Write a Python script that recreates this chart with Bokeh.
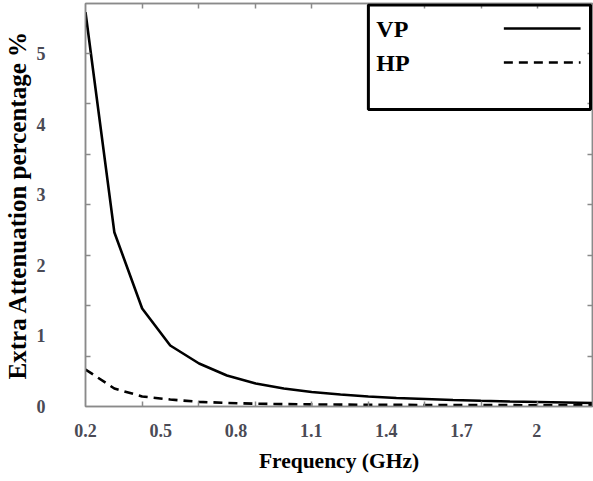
from bokeh.plotting import figure
from bokeh.models import (FixedTicker, LinearAxis, BoxAnnotation, Label,
                          CustomJSTickFormatter, Range1d)
from bokeh.embed import file_html
from bokeh.resources import INLINE

# ---- data ----
freq = [0.2, 0.315, 0.426, 0.538, 0.653, 0.764, 0.879, 0.991, 1.102, 1.217,
        1.328, 1.44, 1.555, 1.666, 1.777, 1.893, 2.004, 2.115, 2.23]
vp = [5.585, 2.469, 1.388, 0.864, 0.609, 0.439, 0.326, 0.255, 0.205, 0.170,
      0.142, 0.120, 0.106, 0.092, 0.081, 0.071, 0.064, 0.057, 0.050]
hp = [0.524, 0.255, 0.142, 0.099, 0.066, 0.050, 0.040, 0.034, 0.030, 0.027,
      0.025, 0.023, 0.022, 0.021, 0.020, 0.019, 0.018, 0.017, 0.016]
x_tick_labels = [0.2, 0.5, 0.8, 1.1, 1.4, 1.7, 2.0]
y_tick_labels = [0, 1, 2, 3, 4, 5]
x_tick_marks = [0.426, 0.652, 0.877, 1.102, 1.327, 1.553, 1.778, 2.003]
y_tick_marks = [0.714, 1.429, 2.143, 2.857, 3.571, 4.286, 5.0]
series_names = ["VP", "HP"]

# ---- layout geometry (page body has no margin) ----
W, H = 593, 481
B_LEFT, B_RIGHT, B_TOP, B_BOTTOM = 83, 1, 3, 75
FX0, FX1 = B_LEFT, W - B_RIGHT
FY0, FY1 = B_TOP, H - B_BOTTOM
X_PX_PER_UNIT = 251.7
Y_PX_PER_UNIT = 70.6
x_end = 0.2 + (FX1 - FX0) / X_PX_PER_UNIT
y_end = (FY1 - FY0) / Y_PX_PER_UNIT

def X(px):
    return 0.2 + (px - FX0) / X_PX_PER_UNIT

def Y(py):
    return (FY1 - py) / Y_PX_PER_UNIT

SERIF = "Liberation Serif"
TICK_COLOR = "#4a4a55"
AXIS_COLOR = "#8a8a8a"

p = figure(width=W, height=H, output_backend="svg", toolbar_location=None,
           x_range=Range1d(0.2, x_end), y_range=Range1d(0, y_end),
           min_border_left=B_LEFT, min_border_right=B_RIGHT,
           min_border_top=B_TOP, min_border_bottom=B_BOTTOM,
           x_axis_location=None, y_axis_location=None)
p.xgrid.visible = False
p.ygrid.visible = False
p.outline_line_color = AXIS_COLOR
p.outline_line_width = 1.5
p.background_fill_color = "white"
p.border_fill_color = "white"

fmt = CustomJSTickFormatter(code="return (Math.round(tick*10)/10).toString();")

def style_axis(ax, ticker, labels=True):
    ax.ticker = ticker
    ax.axis_line_color = AXIS_COLOR
    ax.axis_line_width = 1.5
    ax.major_tick_in = 0
    ax.major_tick_out = 0
    ax.minor_tick_in = 5
    ax.minor_tick_out = 0
    ax.minor_tick_line_color = AXIS_COLOR
    ax.minor_tick_line_width = 1.5
    if labels:
        ax.major_label_text_font = SERIF
        ax.major_label_text_font_style = "bold"
        ax.major_label_text_font_size = "18px"
        ax.major_label_text_color = TICK_COLOR
        ax.axis_label_text_font = SERIF
        ax.axis_label_text_font_style = "bold"
        ax.axis_label_text_color = "black"
    else:
        ax.major_label_text_font_size = "0px"
        ax.major_label_standoff = 0

xt = FixedTicker(ticks=x_tick_labels, minor_ticks=x_tick_marks)
yt = FixedTicker(ticks=y_tick_labels, minor_ticks=y_tick_marks)

xb = LinearAxis(axis_label="Frequency (GHz)", formatter=fmt)
style_axis(xb, xt)
xb.major_label_standoff = 17
xb.axis_label_standoff = 9
xb.axis_label_text_font_size = "21.5px"
p.add_layout(xb, "below")

yl = LinearAxis(axis_label="Extra Attenuation percentage %")
style_axis(yl, yt)
yl.major_label_standoff = 40
yl.axis_label_standoff = 3
yl.axis_label_text_font_size = "25px"
p.add_layout(yl, "left")

xa = LinearAxis()
style_axis(xa, FixedTicker(ticks=[], minor_ticks=x_tick_marks), labels=False)
p.add_layout(xa, "above")
yr = LinearAxis()
style_axis(yr, FixedTicker(ticks=[], minor_ticks=y_tick_marks), labels=False)
p.add_layout(yr, "right")

# ---- series ----
p.line(freq, vp, line_color="black", line_width=2.6)
p.line(freq, hp, line_color="black", line_width=2.6, line_dash="9 6")

# ---- legend (label on the left, sample on the right) ----
box = BoxAnnotation(left=X(367), right=X(W - 3), top=Y(FY0 + 1.5), bottom=Y(109),
                    fill_alpha=0, line_color="black", line_alpha=1.0,
                    line_width=3)
p.add_layout(box)
for i, (name, dash) in enumerate(zip(series_names, ["solid", "9 6"])):
    yy = 28 + i * 34
    p.add_layout(Label(x=X(375), y=Y(yy), text=name, text_font=SERIF,
                       text_font_style="bold", text_font_size="24px",
                       text_baseline="middle", text_color="black"))
    p.line([X(503), X(580)], [Y(yy), Y(yy)], line_color="black",
           line_width=2.6, line_dash=dash)

open("out.html", "w").write(file_html(p, INLINE))
